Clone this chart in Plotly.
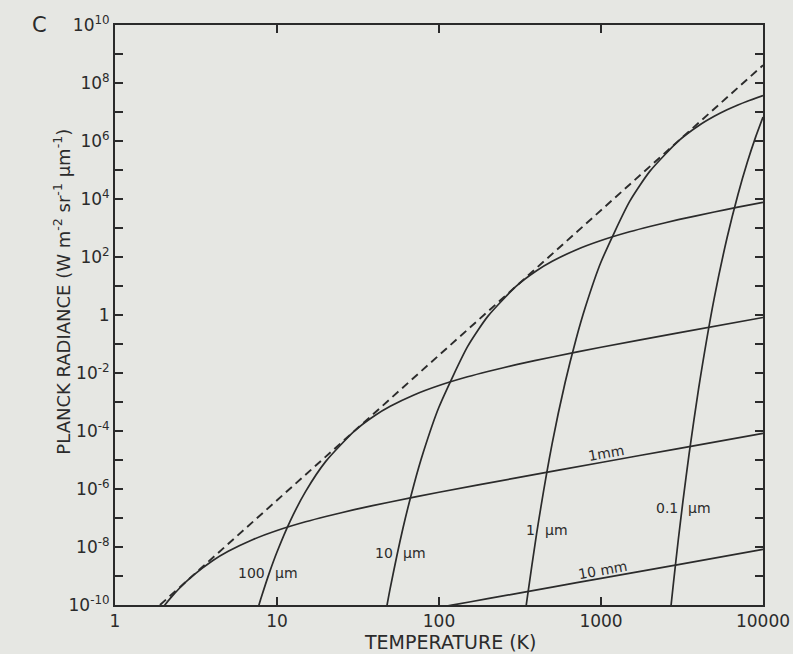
import math
import plotly.graph_objects as go

# ---------------- data ----------------
# Planck radiance curves, W m^-2 sr^-1 um^-1, versus temperature (K)
T_01um = [2700, 2800, 3000, 3200, 3500, 4000, 5000, 6000, 7000, 8000, 9000, 10000]
B_01um = [8.5e-11, 5.7e-10, 1.78e-8, 3.5e-7, 1.66e-5, 2.8e-3, 3.8, 459, 1.41e4, 1.84e5, 1.36e6, 6.7e6]

T_1um = [340, 350, 400, 500, 600, 700, 800, 1000, 1500, 2000, 3000, 4000, 5000, 6000, 7000, 8000, 10000]
B_1um = [5e-11, 1.66e-10, 2.8e-8, 3.8e-5, 4.59e-3, 0.141, 1.84, 67, 8.1e3, 8.95e4, 9.9e5, 3.36e6, 7.1e6,
         1.19e7, 1.75e7, 2.36e7, 3.7e7]

T_10um = [47, 50, 60, 70, 80, 100, 150, 200, 300, 400, 500, 700, 1000, 1500, 2000, 3000, 5000, 7000, 10000]
B_10um = [6e-11, 3.8e-10, 4.59e-8, 1.41e-6, 1.84e-5, 6.7e-4, 8.1e-2, 0.895, 9.9, 33.6, 71, 175, 370, 740,
          1131, 1935, 3572, 5219, 7697]

T_100um = [7.5, 8, 9, 10, 12, 15, 20, 30, 40, 50, 70, 100, 150, 200, 300, 500, 1000, 3000, 10000]
B_100um = [5.6e-11, 1.84e-10, 1.36e-9, 6.7e-9, 7.4e-8, 8.1e-7, 8.95e-6, 9.9e-5, 3.36e-4, 7.1e-4, 1.75e-3,
           3.7e-3, 7.4e-3, 1.131e-2, 1.935e-2, 3.57e-2, 7.7e-2, 0.2424, 0.822]

T_1mm = [1.9, 2, 2.2, 2.5, 3, 4, 5, 7, 10, 15, 20, 30, 50, 100, 300, 1000, 3000, 10000]
B_1mm = [6.13e-11, 8.95e-11, 1.72e-10, 3.78e-10, 9.9e-10, 3.36e-9, 7.1e-9, 1.75e-8, 3.7e-8, 7.4e-8,
         1.131e-7, 1.935e-7, 3.57e-7, 7.7e-7, 2.424e-6, 8.22e-6, 2.477e-5, 8.27e-5]

T_10mm = [100, 120, 200, 500, 1000, 3000, 10000]
B_10mm = [8.22e-11, 9.9e-11, 1.65e-10, 4.14e-10, 8.27e-10, 2.48e-9, 8.28e-9]

# locus of maximum radiance (dashed)
T_max = [1.895, 10, 100, 1000, 10000]
B_max = [1e-10, 4.1e-7, 4.1e-2, 4.1e3, 4.1e8]

x_tick_vals = [1, 10, 100, 1000, 10000]
x_tick_text = ["1", "10", "100", "1000", "10000"]
y_exponents = list(range(-10, 11))
y_tick_vals = [10.0 ** e for e in y_exponents]
y_tick_text = [("1" if e == 0 else f"10<sup>{e}</sup>") if e % 2 == 0 else "" for e in y_exponents]

# curve labels: (text, T, B)
steep_labels = [("100", 9, 1.3e-9), ("10", 56, 6e-9), ("1", 420, 4e-8), ("0.1", 3200, 2.2e-7)]
flat_labels = [("1mm", 1080, 1.8e-5), ("10 mm", 1030, 1.6e-9)]

# ---------------- figure ----------------
BG = "#e6e7e3"
INK = "#2b2b2b"
FONT = "DejaVu Sans"

fig = go.Figure()
line = dict(color=INK, width=1.7)
for T, B in [(T_01um, B_01um), (T_1um, B_1um), (T_10um, B_10um), (T_100um, B_100um),
             (T_1mm, B_1mm), (T_10mm, B_10mm)]:
    fig.add_trace(go.Scatter(x=T, y=B, mode="lines", line=dict(line, shape="spline", smoothing=0.6),
                             showlegend=False, hoverinfo="skip"))
fig.add_trace(go.Scatter(x=T_max, y=B_max, mode="lines",
                         line=dict(color=INK, width=1.9, dash="8px,5px"),
                         showlegend=False, hoverinfo="skip"))

annotations = []
lab_font = dict(family=FONT, size=14, color=INK)
for txt, T, B in steep_labels:
    annotations.append(dict(x=math.log10(T), y=math.log10(B), text=txt, showarrow=False,
                            xanchor="right", xshift=-3, font=lab_font))
    annotations.append(dict(x=math.log10(T), y=math.log10(B), text="µm", showarrow=False,
                            xanchor="left", xshift=3, font=lab_font))
for txt, T, B in flat_labels:
    annotations.append(dict(x=math.log10(T), y=math.log10(B), text=txt, showarrow=False,
                            textangle=-10, font=lab_font))

annotations.append(dict(xref="paper", yref="paper", x=-0.082, y=0.54, xanchor="center", yanchor="middle",
                        text="PLANCK RADIANCE (W m<sup>-2</sup> sr<sup>-1</sup> µm<sup>-1</sup>)",
                        textangle=-90, showarrow=False, font=dict(family=FONT, size=18, color=INK)))
annotations.append(dict(xref="paper", yref="paper", x=0.517, y=-0.063, xanchor="center", yanchor="middle",
                        text="TEMPERATURE (K)", showarrow=False,
                        font=dict(family=FONT, size=19, color=INK)))
annotations.append(dict(xref="paper", yref="paper", x=-0.116, y=1.0, xanchor="center", yanchor="middle",
                        text="C", showarrow=False, font=dict(family=FONT, size=21, color=INK)))

axis_common = dict(type="log", showgrid=False, zeroline=False, showline=True, linecolor=INK,
                   linewidth=2, mirror="ticks", ticks="inside", ticklen=8, tickwidth=1.5,
                   tickcolor=INK, tickfont=dict(family=FONT, size=17, color=INK), automargin=False)

fig.update_layout(
    width=793, height=654,
    margin=dict(l=115, r=30, t=25, b=49),
    paper_bgcolor=BG, plot_bgcolor=BG,
    xaxis=dict(axis_common, range=[0, 4], tickmode="array", tickvals=x_tick_vals, ticktext=x_tick_text),
    yaxis=dict(axis_common, range=[-10, 10], tickmode="array", tickvals=y_tick_vals, ticktext=y_tick_text),
    annotations=annotations,
)

fig.write_html("out.html")
